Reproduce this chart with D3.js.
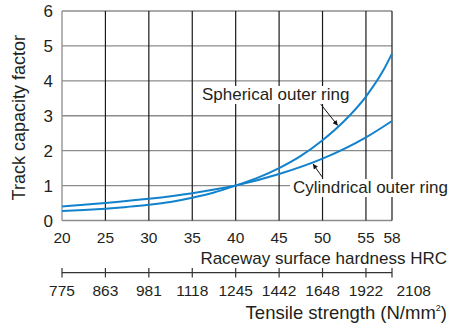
<!DOCTYPE html>
<html><head><meta charset="utf-8">
<script src="https://cdn.jsdelivr.net/npm/d3@7"></script>
<style>
html,body{margin:0;padding:0;background:#fff;}
svg{display:block;font-family:Arial,"Liberation Sans",sans-serif;}
</style></head>
<body>
<svg id="c" width="456" height="328"></svg>
<script>
// ---- data ----
const hrcTicks = [20, 25, 30, 35, 40, 45, 50, 55, 58];
const yTicks = [0, 1, 2, 3, 4, 5, 6];
const sphericalHRC = [20, 22.5, 25, 27.5, 30, 32.5, 35, 37.5, 40, 42.5, 45, 47.5, 50, 52.5, 55, 57, 58];
const sphericalVal = [0.27, 0.30, 0.34, 0.39, 0.45, 0.53, 0.65, 0.80, 1.0, 1.22, 1.5, 1.85, 2.3, 2.85, 3.55, 4.3, 4.78];
const cylindricalHRC = [20, 25, 30, 35, 40, 45, 50, 55, 58];
const cylindricalVal = [0.40, 0.50, 0.62, 0.78, 1.0, 1.33, 1.77, 2.38, 2.85];
const tensileTickHRC = [20, 25, 30, 35, 40, 45, 50, 55, 58];
const tensileLabelHRC = [20, 25, 30, 35, 40, 45, 50, 55, 60.5];
const tensileLabels = ["775", "863", "981", "1118", "1245", "1442", "1648", "1922", "2108"];

const textColor = "#231f20";
const blue = "#1282cc";

const svg = d3.select("#c");
const x = d3.scaleLinear().domain([20, 58]).range([62, 392]);
const y = d3.scaleLinear().domain([0, 6]).range([220.5, 11]);

// horizontal grid (gray)
svg.append("g").selectAll("line").data(yTicks).join("line")
  .attr("x1", x(20)).attr("x2", x(58))
  .attr("y1", d => y(d)).attr("y2", d => y(d))
  .attr("stroke", "#8c8c8c").attr("stroke-width", 1.3);

// vertical grid (black)
svg.append("g").selectAll("line").data(hrcTicks.filter(d => d !== 20)).join("line")
  .attr("x1", d => x(d)).attr("x2", d => x(d))
  .attr("y1", y(0)).attr("y2", y(6))
  .attr("stroke", "#1a1a1a").attr("stroke-width", 1.2);
// left axis (gray)
svg.append("line").attr("x1", x(20)).attr("x2", x(20)).attr("y1", y(0)).attr("y2", y(6))
  .attr("stroke", "#8c8c8c").attr("stroke-width", 1.3);

// curves
const line = d3.line().x(d => x(d[0])).y(d => y(d[1])).curve(d3.curveMonotoneX);
svg.append("path").datum(cylindricalHRC.map((h, i) => [h, cylindricalVal[i]]))
  .attr("d", line).attr("fill", "none").attr("stroke", blue).attr("stroke-width", 2);
svg.append("path").datum(sphericalHRC.map((h, i) => [h, sphericalVal[i]]))
  .attr("d", line).attr("fill", "none").attr("stroke", blue).attr("stroke-width", 2);

// y ticks labels
svg.append("g").selectAll("text").data(yTicks).join("text")
  .attr("x", 53).attr("y", d => y(d)).attr("dy", "0.36em")
  .attr("text-anchor", "end").attr("font-size", 17).attr("fill", textColor)
  .text(d => d);

// y label
svg.append("text").attr("transform", `translate(25,${(y(0) + y(6)) / 2 + 2}) rotate(-90)`)
  .attr("text-anchor", "middle").attr("font-size", 18).attr("fill", textColor)
  .text("Track capacity factor");

// HRC tick labels
svg.append("g").selectAll("text").data(hrcTicks).join("text")
  .attr("x", d => x(d)).attr("y", 242.5)
  .attr("text-anchor", "middle").attr("font-size", 15.5).attr("fill", textColor)
  .text(d => d);
svg.append("text").attr("x", 447).attr("y", 263.5).attr("text-anchor", "end")
  .attr("font-size", 17).attr("fill", textColor).text("Raceway surface hardness HRC");

// Tensile axis
const ty = 272.7;
svg.append("line").attr("x1", x(20)).attr("x2", x(58)).attr("y1", ty).attr("y2", ty)
  .attr("stroke", "#333").attr("stroke-width", 1.2);
svg.append("g").selectAll("line").data(tensileTickHRC).join("line")
  .attr("x1", d => x(d)).attr("x2", d => x(d)).attr("y1", ty - 4.7).attr("y2", ty + 4.7)
  .attr("stroke", "#333").attr("stroke-width", 1.2);
svg.append("g").selectAll("text").data(tensileLabels).join("text")
  .attr("x", (d, i) => x(tensileLabelHRC[i])).attr("y", 295.5)
  .attr("text-anchor", "middle").attr("font-size", 15.5).attr("fill", textColor)
  .text(d => d);
const tt = svg.append("text").attr("x", 447).attr("y", 319).attr("text-anchor", "end")
  .attr("font-size", 18.5).attr("fill", textColor);
tt.append("tspan").text("Tensile strength (N/mm");
tt.append("tspan").attr("font-size", 9).attr("dy", -8).text("2");
tt.append("tspan").attr("dy", 8).text(")");

// annotation labels with white backgrounds
function label(txt, tx, tyy) {
  const g = svg.append("g");
  const t = g.append("text").attr("x", tx).attr("y", tyy)
    .attr("font-size", 17).attr("fill", textColor).text(txt);
  const bb = t.node().getBBox();
  g.insert("rect", "text").attr("x", bb.x - 3).attr("y", bb.y + 1)
    .attr("width", bb.width + 5).attr("height", bb.height - 1).attr("fill", "#fff");
}
label("Spherical outer ring", 202, 100);
label("Cylindrical outer ring", 293, 193);

// arrows
svg.append("defs").append("marker").attr("id", "ah").attr("viewBox", "0 0 10 10")
  .attr("refX", 10).attr("refY", 5).attr("markerWidth", 7).attr("markerHeight", 5)
  .attr("markerUnits", "userSpaceOnUse").attr("orient", "auto")
  .append("path").attr("d", "M0,0L10,5L0,10Z").attr("fill", "#111");
const arrows = [
  {from: [49.8, 3.33], to: [51.75, 2.72]},
  {from: [49.95, 1.25], to: [48.9, 1.62]}
];
svg.append("g").selectAll("line").data(arrows).join("line")
  .attr("x1", d => x(d.from[0])).attr("y1", d => y(d.from[1]))
  .attr("x2", d => x(d.to[0])).attr("y2", d => y(d.to[1]))
  .attr("stroke", "#111").attr("stroke-width", 1).attr("marker-end", "url(#ah)");
</script>
</body></html>
